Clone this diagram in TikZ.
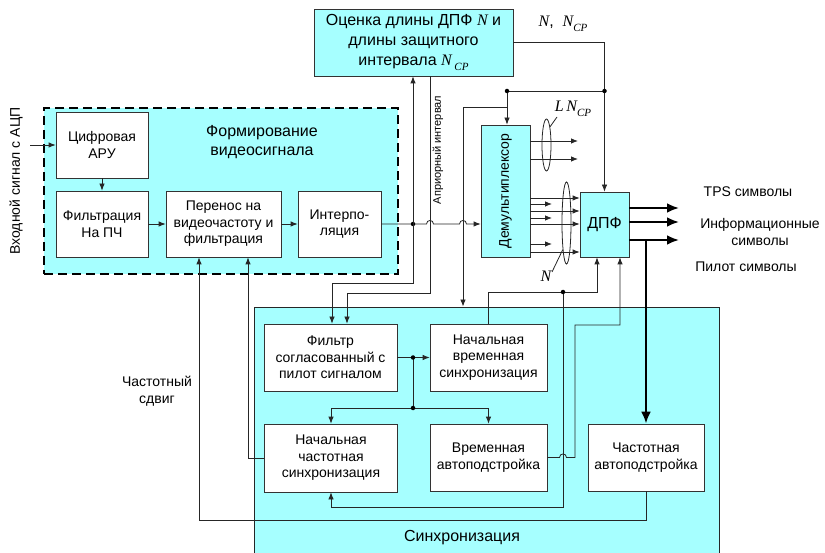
\documentclass[tikz,border=0pt]{standalone}
\usepackage{fontspec}
\usepackage{graphicx}
\setmainfont{Liberation Sans}
\newfontfamily\tms{Liberation Serif}
\usetikzlibrary{arrows.meta,shapes.geometric}
\definecolor{cy}{RGB}{166,255,255}
\newcommand{\Nit}{{\tms\itshape N}}
\newcommand{\subcp}{\raisebox{-0.28em}{\tms\itshape\fontsize{11}{11}\selectfont CP}}
\begin{document}
\begin{tikzpicture}[x=1pt,y=-1pt,
 blk/.style={draw=black!80, fill=white, line width=0.8pt, align=center, inner sep=1pt, font=\fontsize{14}{16.5}\selectfont},
 cblk/.style={blk, fill=cy},
 wire/.style={draw=black!85, line width=0.8pt},
 arr/.style={wire, -{Latex[length=7pt,width=5.5pt]}},
 tarr/.style={draw=black, line width=2.8pt, -{Latex[length=12pt,width=10pt]}},
 jdot/.style={circle, fill=black, inner sep=0pt, minimum size=4.5pt},
 lbl/.style={inner sep=0pt, align=center, font=\fontsize{14}{17}\selectfont},
 bigtxt/.style={inner sep=0pt, align=center, font=\fontsize{16}{19}\selectfont},
 ell/.style={draw=black!85, line width=0.8pt, ellipse, inner sep=0pt},
]
\useasboundingbox (0,0) rectangle (825,553);

% frames
\node[draw=black, fill=cy, line width=2.6pt, dash pattern=on 9pt off 5pt, minimum width=354pt, minimum height=166pt, inner sep=0pt] (frm) at (221,191) {};
\node[draw=black!85, fill=cy, line width=0.9pt, minimum width=465pt, minimum height=249pt, inner sep=0pt] (sync) at (486.5,431.5) {};

% video block
\node[blk, minimum width=92pt, minimum height=66pt] (agc) at (102,145) {Цифровая\\АРУ};
\node[blk, minimum width=92pt, minimum height=66pt] (iff) at (102,224) {Фильтрация\\На ПЧ};
\node[blk, minimum width=115pt, minimum height=66pt] (conv) at (223.5,224) {Перенос на\\видеочастоту и\\фильтрация};
\node[blk, minimum width=83pt, minimum height=66pt] (intp) at (339.5,224) {Интерпо-\\ляция};
\node[bigtxt] (frmt) at (262,142) {Формирование\\видеосигнала};

% top
\node[cblk, minimum width=199pt, minimum height=67pt, font=\fontsize{16}{20}\selectfont] (est) at (413.5,42.5) {Оценка длины ДПФ \Nit{} и\\длины защитного\\интервала \Nit\,\subcp};
\node[cblk, minimum width=49pt, minimum height=132pt] (dmx) at (505.5,191) {\rotatebox{90}{Демультиплексор}};
\node[cblk, minimum width=49pt, minimum height=65pt, font=\fontsize{16}{19}\selectfont] (dft) at (604.5,224.5) {ДПФ};

% sync
\node[blk, minimum width=133pt, minimum height=67pt] (mf) at (330.5,357.5) {Фильтр\\согласованный с\\пилот сигналом};
\node[blk, minimum width=117pt, minimum height=67pt] (its) at (488.5,357.5) {Начальная\\временная\\синхронизация};
\node[blk, minimum width=133pt, minimum height=68pt] (ifs) at (331,458) {Начальная\\частотная\\синхронизация};
\node[blk, minimum width=117pt, minimum height=67pt] (tt) at (488.5,457.5) {Временная\\автоподстройка};
\node[blk, minimum width=116pt, minimum height=67pt] (ft) at (646,457.5) {Частотная\\автоподстройка};
\node[bigtxt] (synct) at (462,538) {Синхронизация};

% labels
\node[lbl, rotate=90] (inl) at (16,181) {Входной сигнал с АЦП};
\node[lbl, font=\fontsize{11}{13}\selectfont, rotate=90] (apr) at (438,150) {Априорный интервал};
\node[lbl] (cs) at (157,391) {Частотный\\сдвиг};
\node[lbl] (tps) at (748,192) {TPS символы};
\node[lbl] (info) at (760,231.5) {Информационные\\символы};
\node[lbl] (pil) at (746,267) {Пилот символы};
\node[bigtxt] (nncp) at (563,24) {\Nit,\ \ \Nit\subcp};
\node[bigtxt] (lncp) at (573,109) {{\tms\itshape L}\,\Nit\subcp};
\node[bigtxt] (nlab) at (546,276) {\Nit};

% video chain
\coordinate (inp) at (30,145);
\draw[arr] (inp) -- (agc.west);
\draw[arr] (agc) -- (iff);
\draw[arr] (iff) -- (conv);
\draw[arr] (conv) -- (intp);
\draw[arr] (intp.east) -- (426.5,224) .. controls (426.5,219.3) and (433.5,219.3) .. (433.5,224) -- (459.5,224) .. controls (459.5,219.3) and (466.5,219.3) .. (466.5,224) -- (dmx.west |- intp.east);

\coordinate (j1) at (413,224);
\node[jdot] (dj1) at (j1) {};
\draw[arr] (j1) -- (j1 |- est.south);
\coordinate (c1) at (332,283);
\draw[arr] (j1) |- (c1) -- (c1 |- mf.north);
\coordinate (a1) at (430,293);
\coordinate (a2) at (347,293);
\draw[arr] (est.south -| a1) -- (a1) -- (a2) -- (a2 |- mf.north);

% N, Ncp distribution
\draw[arr] (est.east) -| (dft.north);
\coordinate (d1) at (507,91);
\coordinate (d2) at (dft.north |- d1);
\draw[wire] (d1) -- (d2);
\draw[arr] (d1) -- (d1 |- dmx.north);
\node[jdot] (dd1) at (d1) {};
\node[jdot] (dd2) at (d2) {};
\coordinate (b1) at (507,107);
\coordinate (b2) at (463,107);
\draw[arr] (b1) -- (b2) -- (b2 |- sync.north);

% demux outputs
\foreach \yy in {141,159} { \coordinate (o1) at (578,\yy); \draw[arr] (dmx.east |- o1) -- (o1); }
\foreach \yy in {198,211,224,252} { \coordinate (o2) at (0,\yy); \draw[arr] (dmx.east |- o2) -- (dft.west |- o2); }
\foreach \yy in {204,218,244} { \coordinate (o3) at (552,\yy); \draw[arr] (dmx.east |- o3) -- (o3); }

\node[ell, minimum width=9pt, minimum height=52pt] (eL) at (546.5,145) {};
\node[ell, minimum width=9pt, minimum height=82pt] (eN) at (566.5,223) {};
\coordinate (pL) at (557,117);
\draw[wire] (eL.79) -- (pL);
\coordinate (pN) at (552,272);
\draw[wire] (eN.262) -- (pN);

% DFT outputs
\foreach \yy in {208,222,240} { \coordinate (o4) at (679,\yy); \draw[tarr] (dft.east |- o4) -- (o4); }
\coordinate (tb) at (646,240);
\draw[tarr] (tb) -- (ft.north);

% sync internals
\draw[arr] (mf) -- (its);
\coordinate (g1) at (413,357.5);
\coordinate (g2) at (413,408);
\draw[wire] (g1) -- (g2);
\draw[arr] (g2) -| (ifs.north);
\draw[arr] (g2) -| (tt.north);
\node[jdot] (dg1) at (g1) {};
\node[jdot] (dg2) at (g2) {};

\coordinate (e2) at (597,292);
\coordinate (e3) at (563,292);
\coordinate (e4) at (563,507);
\draw[arr] (its.north) |- (e2) -- (e2 |- dft.south);
\draw[arr] (e3) -- (e4) -| (ifs.south);
\node[jdot] (de3) at (e3) {};

\coordinate (f1) at (575,457.5);
\coordinate (f2) at (575,325);
\coordinate (f3) at (620,325);
\draw[arr] (tt.east) -- (559.5,457.5) .. controls (559.5,452.8) and (566.5,452.8) .. (566.5,457.5) -- (f1) -- (f2) -- (f3) -- (f3 |- dft.south);

\coordinate (h1) at (248,458);
\draw[arr] (ifs.west) -- (h1) -- (h1 |- conv.south);
\coordinate (k1) at (646,520);
\coordinate (k2) at (199,520);
\draw[arr] (ft.south) -- (k1) -- (k2) -- (k2 |- conv.south);
\end{tikzpicture}
\end{document}
